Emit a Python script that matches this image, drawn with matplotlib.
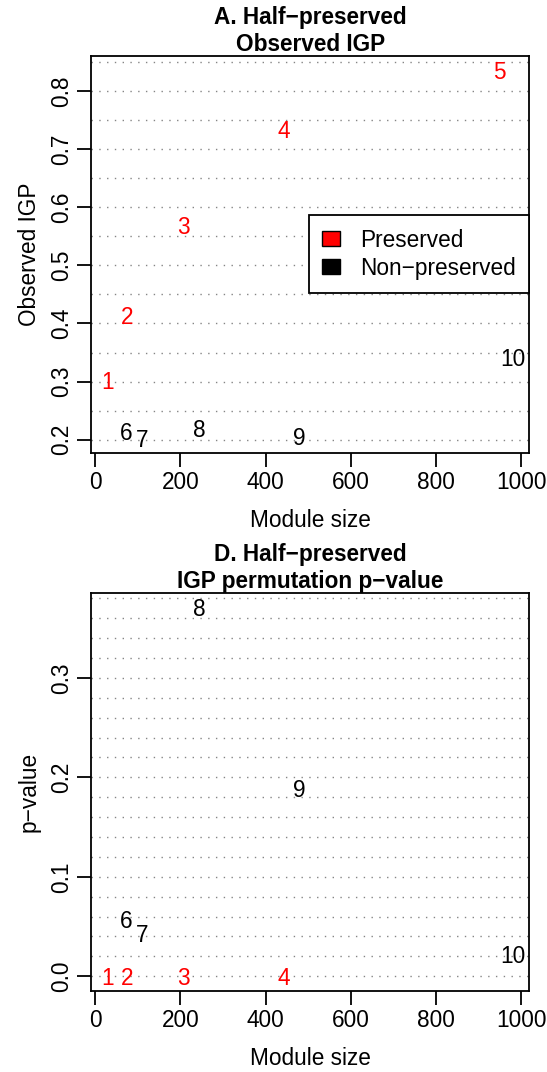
import matplotlib
matplotlib.use('Agg')
import matplotlib.pyplot as plt
from matplotlib.patches import Patch
import numpy as np

plt.rcParams['font.family'] = ['Liberation Sans', 'DejaVu Sans']

# module labels, sizes and results
modules = ['1', '2', '3', '4', '5', '6', '7', '8', '9', '10']
module_size = [29, 74, 206, 442, 949, 73, 110, 245, 480, 981]
preserved = [True, True, True, True, True, False, False, False, False, False]
observed_igp = [0.302, 0.413, 0.568, 0.733, 0.835, 0.214, 0.203, 0.219, 0.206, 0.341]
# module 5 has no p-value in the plot
igp_pvalue = [0.0, 0.0, 0.0, 0.0, np.nan, 0.057, 0.043, 0.371, 0.189, 0.022]

x_ticks = [0, 200, 400, 600, 800, 1000]
a_yticks = [0.2, 0.3, 0.4, 0.5, 0.6, 0.7, 0.8]
a_grid = np.arange(0.2, 0.851, 0.05)
d_yticks = [0.0, 0.1, 0.2, 0.3]
d_grid = np.arange(0.0, 0.381, 0.02)

FS = 16.3


def r_range(vals):
    vals = np.asarray(vals, dtype=float)
    vals = vals[~np.isnan(vals)]
    lo, hi = vals.min(), vals.max()
    ext = 0.04 * (hi - lo)
    return lo - ext, hi + ext


def panel(ax, y, title, ylabel, yticks, grid):
    for g in grid:
        ax.axhline(g, color='#858585', lw=1.0, ls=(0, (1, 4.6)), zorder=1)
    for lab, xv, yv, p in zip(modules, module_size, y, preserved):
        if np.isnan(yv):
            continue
        ax.annotate(lab, (xv, yv), xytext=(0, -1.5), textcoords='offset points',
                    color='red' if p else 'black', fontsize=FS,
                    ha='center', va='center', zorder=3)
    ax.set_xlim(*r_range(module_size))
    ax.set_ylim(*r_range(y))
    ax.set_xticks(x_ticks)
    ax.set_yticks(yticks)
    ax.set_yticklabels(['%.1f' % t for t in yticks])
    ax.tick_params(direction='out', length=10, width=1.3, labelsize=FS, pad=3)
    ax.tick_params(axis='y', labelrotation=90, pad=3)
    plt.setp(ax.get_yticklabels(), va='center')
    for s in ax.spines.values():
        s.set_linewidth(1.3)
    ax.set_xlabel('Module size', fontsize=FS, labelpad=11)
    ax.set_ylabel(ylabel, fontsize=FS, labelpad=7)
    ax.set_title(title, fontsize=FS, fontweight='bold', pad=2, linespacing=1.2)


fig = plt.figure(figsize=(5.47, 10.72), dpi=100)
ax1 = fig.add_axes([0.1669, 0.5777, 0.8008, 0.3703])
ax2 = fig.add_axes([0.1669, 0.0756, 0.8008, 0.3716])

panel(ax1, observed_igp, 'A. Half\u2212preserved\nObserved IGP', 'Observed IGP',
      a_yticks, a_grid)
panel(ax2, igp_pvalue, 'D. Half\u2212preserved\nIGP permutation p\u2212value',
      'p\u2212value', d_yticks, d_grid)

handles = [Patch(facecolor='red', edgecolor='black', label='Preserved'),
           Patch(facecolor='black', edgecolor='black', label='Non\u2212preserved')]
leg = ax1.legend(handles=handles, loc='center right', borderaxespad=0,
                 fontsize=FS, fancybox=False, framealpha=1, edgecolor='black',
                 handlelength=0.78, handleheight=0.62, handletextpad=0.88,
                 borderpad=0.6, labelspacing=0.22)
leg.get_frame().set_linewidth(1.3)
leg.set_zorder(5)

fig.savefig('out.png', dpi=100)
